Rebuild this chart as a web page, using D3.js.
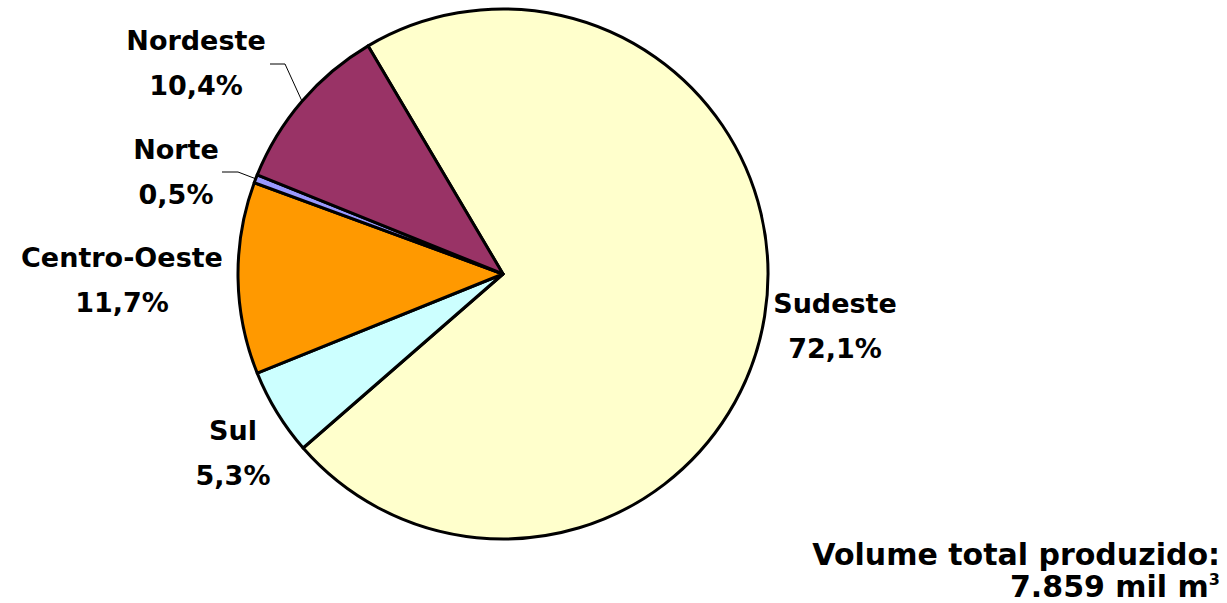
<!DOCTYPE html>
<html>
<head>
<meta charset="utf-8">
<script src="https://cdn.jsdelivr.net/npm/d3@7"></script>
<style>
  body { margin: 0; background: #fff; }
  text { font-family: "DejaVu Sans", sans-serif; font-weight: bold; fill: #000; }
</style>
</head>
<body>
<div class="chart"></div>
<script>
// regiões, em ordem horária a partir da fronteira Nordeste/Sudeste
var regions = ["Sudeste", "Sul", "Centro-Oeste", "Norte", "Nordeste"];
var shares  = [72.1, 5.3, 11.7, 0.5, 10.4];
var colors  = ["#FFFFCC", "#CCFFFF", "#FF9900", "#9999FF", "#993366"];
var totalLines = ["Volume total produzido:", "7.859 mil m"];

var width = 1227, height = 603;
var cx = 503, cy = 274, radius = 265;
var startDeg = -30.6;

// onde fica cada rótulo (centro do texto, linha de base da 1a linha)
var labelPos = {
  "Sudeste":      { x: 835, y: 313 },
  "Sul":          { x: 233, y: 440 },
  "Centro-Oeste": { x: 122, y: 267 },
  "Norte":        { x: 176, y: 159 },
  "Nordeste":     { x: 196, y: 50 }
};
// linhas de chamada das fatias pequenas
var leaders = {
  "Nordeste": { x: 270, y: 64, elbow: 15 },
  "Norte":    { x: 222, y: 172, elbow: 16 }
};

var svg = d3.select(".chart").append("svg")
            .attr("width", width)
            .attr("height", height);

var data = regions.map(function(r, i) { return { name: r, value: shares[i], color: colors[i] }; });

var pie = d3.pie()
            .sort(null)
            .value(function(d) { return d.value; })
            .startAngle(startDeg * Math.PI / 180)
            .endAngle(startDeg * Math.PI / 180 + 2 * Math.PI);

var arc = d3.arc().innerRadius(0).outerRadius(radius);

var g = svg.append("g").attr("transform", "translate(" + cx + "," + cy + ")");

var arcs = pie(data);

g.selectAll("path").data(arcs).enter().append("path")
  .attr("d", arc)
  .attr("fill", function(d) { return d.data.color; })
  .attr("stroke", "#000")
  .attr("stroke-width", 3)
  .attr("stroke-linejoin", "round");

// linhas de chamada
arcs.forEach(function(d) {
  var l = leaders[d.data.name];
  if (!l) return;
  var a = (d.startAngle + d.endAngle) / 2;
  var px = cx + Math.sin(a) * radius, py = cy - Math.cos(a) * radius;
  svg.append("polyline")
    .attr("points", [[l.x, l.y], [l.x + l.elbow, l.y], [px, py]].join(" "))
    .attr("fill", "none")
    .attr("stroke", "#000")
    .attr("stroke-width", 1);
});

// rótulos
arcs.forEach(function(d) {
  var p = labelPos[d.data.name];
  var t = svg.append("text")
    .attr("text-anchor", "middle")
    .style("font-size", "27px");
  t.append("tspan").attr("x", p.x).attr("y", p.y).text(d.data.name);
  t.append("tspan").attr("x", p.x).attr("y", p.y + 45)
    .text(d3.format(".1f")(d.data.value).replace(".", ",") + "%");
});

// total
svg.append("text")
  .attr("x", 1220).attr("y", 565)
  .attr("text-anchor", "end")
  .style("font-size", "30px")
  .text(totalLines[0]);

var t2 = svg.append("text")
  .attr("x", 1220).attr("y", 597)
  .attr("text-anchor", "end")
  .style("font-size", "30px");
t2.append("tspan").text(totalLines[1]);
t2.append("tspan").attr("dy", -12).style("font-size", "16px").text("3");
</script>
</body>
</html>
